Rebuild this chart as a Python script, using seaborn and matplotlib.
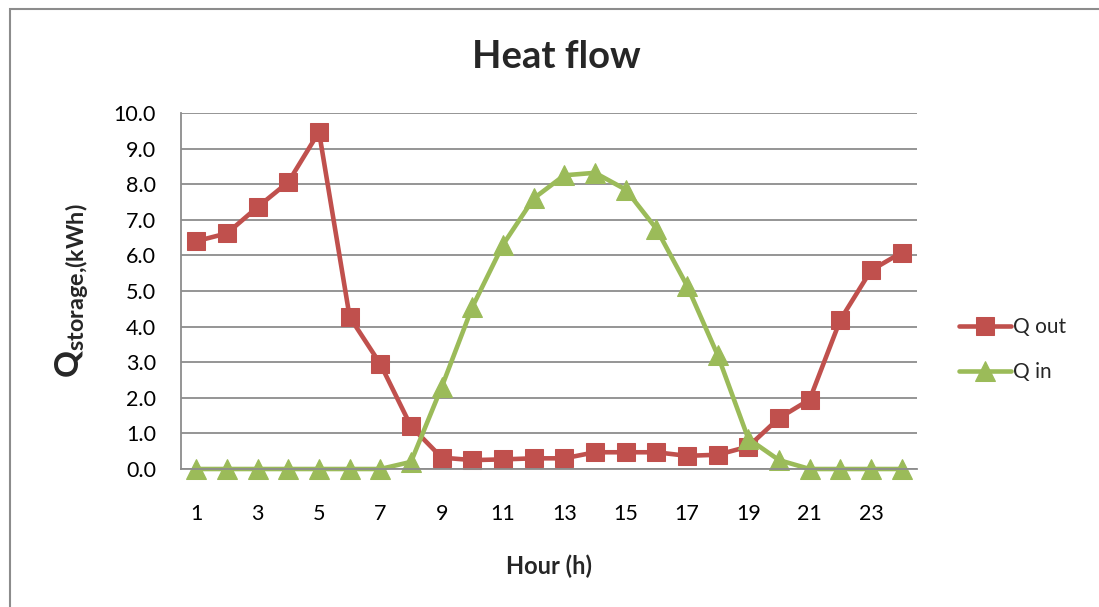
import matplotlib
matplotlib.use("Agg")
import matplotlib.pyplot as plt
import seaborn as sns
import numpy as np
from matplotlib.patches import Rectangle

hours = list(range(1, 25))
q_out = [6.40, 6.62, 7.36, 8.06, 9.47, 4.27, 2.95, 1.20, 0.32, 0.25, 0.27, 0.30,
         0.30, 0.47, 0.47, 0.47, 0.37, 0.40, 0.63, 1.43, 1.95, 4.19, 5.58, 6.08]
q_in = [0.0, 0.0, 0.0, 0.0, 0.0, 0.0, 0.0, 0.2, 2.3, 4.55, 6.3, 7.6,
        8.25, 8.32, 7.85, 6.75, 5.15, 3.2, 0.85, 0.25, 0.0, 0.0, 0.0, 0.0]
x_ticks = list(range(1, 25, 2))
y_ticks = [0, 1, 2, 3, 4, 5, 6, 7, 8, 9, 10]

RED = "#C0504D"
GREEN = "#9BBB59"
GRID = "#8C8C8C"

sns.set_style("white")
plt.rcParams['font.family'] = ['Lato', 'DejaVu Sans']
plt.rcParams['mathtext.fontset'] = 'custom'
plt.rcParams['mathtext.rm'] = 'Lato'
plt.rcParams['mathtext.bf'] = 'Lato:bold'

fig = plt.figure(figsize=(10.99, 6.07), dpi=100)
ax = fig.add_axes([181/1099, 1 - 469/607, (917-181)/1099, (469-113)/607])

sns.lineplot(x=hours, y=q_out, ax=ax, color=RED, marker='s', markersize=13,
             markeredgecolor=RED, linewidth=3.3, label='Q out', clip_on=False)
sns.lineplot(x=hours, y=q_in, ax=ax, color=GREEN, marker='^', markersize=14,
             markeredgecolor=GREEN, linewidth=3.3, label='Q in', clip_on=False)

ax.set_xlim(0.5, 24.5)
ax.set_ylim(0, 10)
ax.set_xticks(x_ticks)
ax.set_xticklabels([str(v) for v in x_ticks])
ax.set_yticks(y_ticks)
ax.set_yticklabels([f"{v:.1f}" for v in y_ticks])
ax.tick_params(axis='both', length=0, labelsize=15.5, colors='black')
ax.tick_params(axis='y', pad=18)
ax.tick_params(axis='x', pad=25)

for y in y_ticks:
    ax.axhline(y, color=GRID, linewidth=1.3, zorder=0)
for side in ['top', 'right']:
    ax.spines[side].set_visible(False)
ax.spines['left'].set_color(GRID)
ax.spines['left'].set_linewidth(1.3)
ax.spines['bottom'].set_color(GRID)
ax.spines['bottom'].set_linewidth(1.3)

ax.set_xlabel("Hour (h)", fontsize=17, fontweight='bold', labelpad=22)
ax.set_ylabel(r"$\mathbf{Q}_{\mathbf{storage{,}(kWh)}}$", fontsize=24, labelpad=16)

fig.text(556/1099, 1 - 57/607, "Heat flow", ha='center', va='center',
         fontsize=27.5, fontweight='bold')

leg = ax.legend(loc='center left', bbox_to_anchor=(1.031, 0.335), frameon=False,
                fontsize=15, handlelength=2.5, handletextpad=0.12, labelspacing=1.2)

fig.patches.append(Rectangle((10/1099, -0.1), 1.2, 1 - 9/607 + 0.1,
                             transform=fig.transFigure, fill=False,
                             edgecolor='#8C8C8C', linewidth=1.5))

fig.savefig("out.png", dpi=100, facecolor='white')
